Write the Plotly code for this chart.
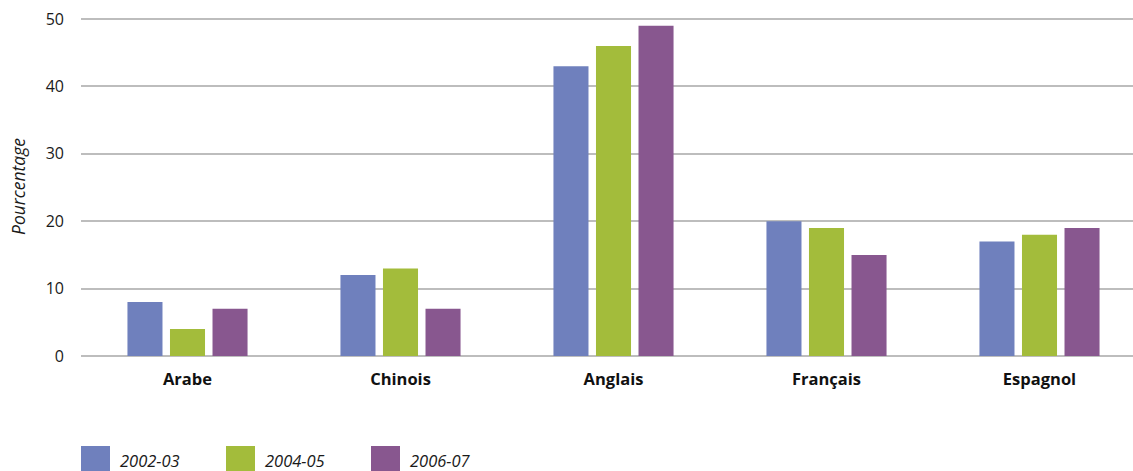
import plotly.graph_objects as go

categories = ["Arabe", "Chinois", "Anglais", "Français", "Espagnol"]
series_names = ["2002-03", "2004-05", "2006-07"]
values_2002 = [8, 12, 43, 20, 17]
values_2004 = [4, 13, 46, 19, 18]
values_2006 = [7, 7, 49, 15, 19]
y_ticks = [0, 10, 20, 30, 40, 50]

colors = ["#6f80bd", "#a3bc3b", "#88578f"]
series_values = [values_2002, values_2004, values_2006]

W, H = 1133, 471
ML, MR, MT, MB = 81, 0, 18, 115
plot_w = W - ML - MR

fig = go.Figure()
for name, vals, col in zip(series_names, series_values, colors):
    fig.add_trace(go.Bar(x=categories, y=vals, name=name, marker_color=col,
                         marker_line_width=0, showlegend=False))

# category spacing of 213 px, so the last category runs past the right edge
cat_px = 213.0
x_max = -0.5 + plot_w / cat_px

fig.update_layout(
    width=W, height=H,
    margin=dict(l=ML, r=MR, t=MT, b=MB, pad=0),
    paper_bgcolor="white", plot_bgcolor="white",
    barmode="group", bargap=0.401, bargroupgap=0.176,
    font=dict(family="Open Sans, sans-serif", color="#1a1a1a"),
    xaxis=dict(range=[-0.5, x_max], showgrid=False, zeroline=False,
               showline=False, ticks="", ticklabelstandoff=11,
               tickfont=dict(size=16.5, color="#111111", weight="bold")),
    yaxis=dict(range=[0, 50.15], tickvals=y_ticks, showgrid=True,
               gridcolor="#bdbdbd", gridwidth=1.5, zeroline=True,
               zerolinecolor="#bdbdbd", zerolinewidth=1.5, showline=False,
               ticks="", ticklabelstandoff=16,
               tickfont=dict(size=16, color="#1a1a1a")),
)

# y-axis title
fig.add_annotation(text="Pourcentage", textangle=-90, xref="paper", yref="paper",
                   x=(18 - ML) / plot_w, y=0.5, showarrow=False,
                   font=dict(size=17.5, style="italic", color="#1a1a1a"),
                   xanchor="center", yanchor="middle")

# legend row at the bottom
plot_h = H - MT - MB
def py(px_y):
    return (H - MB - px_y) / plot_h

def px(px_x):
    return (px_x - ML) / plot_w

leg_x = [81, 226, 371]
for x0, name, col in zip(leg_x, series_names, colors):
    fig.add_shape(type="rect", xref="paper", yref="paper",
                  x0=px(x0), x1=px(x0 + 29), y0=py(472), y1=py(446),
                  fillcolor=col, line_width=0)
    fig.add_annotation(text=name, xref="paper", yref="paper",
                       x=px(x0 + 37), y=py(460), showarrow=False,
                       xanchor="left", yanchor="middle",
                       font=dict(size=16.5, style="italic", color="#1a1a1a"))

fig.write_html("out.html")
